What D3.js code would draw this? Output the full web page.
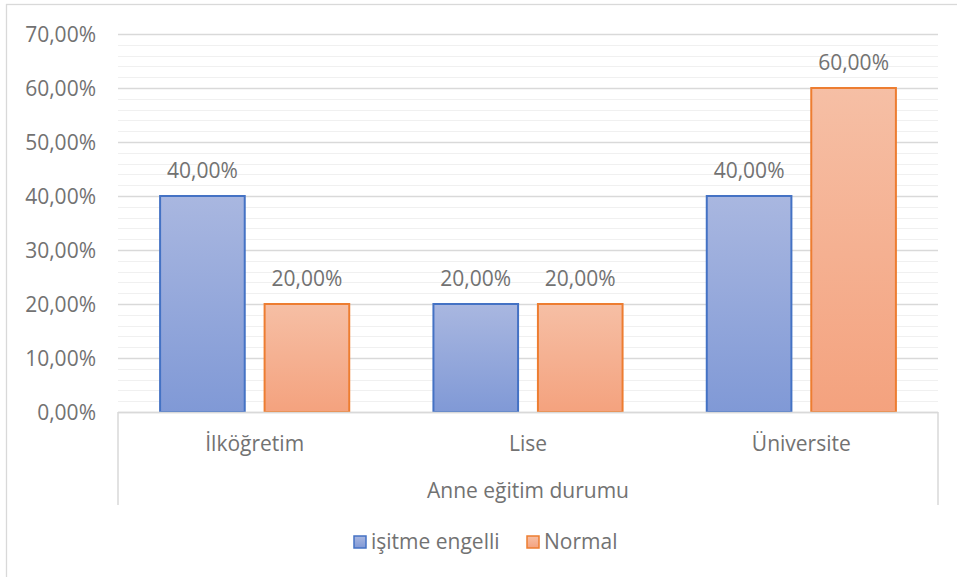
<!DOCTYPE html>
<html>
<head>
<meta charset="utf-8">
<script src="https://cdn.jsdelivr.net/npm/d3@7"></script>
<style>
  html, body { margin: 0; padding: 0; background: #fff; }
  svg { display: block; font-family: "Open Sans", "Noto Sans", sans-serif; }
</style>
</head>
<body>
<svg id="chart" width="957" height="577"></svg>
<script>
// Data
const categories = ["İlköğretim", "Lise", "Üniversite"];
const seriesNames = ["işitme engelli", "Normal"];
const hearingImpaired = [0.40, 0.20, 0.40];
const normal = [0.20, 0.20, 0.60];
const yTicks = [0, 0.1, 0.2, 0.3, 0.4, 0.5, 0.6, 0.7];
const axisTitle = "Anne eğitim durumu";

const svg = d3.select("#chart");
const W = 957, H = 577;
const plot = { left: 118, right: 938, top: 34, bottom: 412 };
const textColor = "#727272";
const fontSize = 21;

// Outer chart border (extends past the right and bottom edges)
svg.append("rect")
  .attr("x", 6.5).attr("y", 4.5)
  .attr("width", W + 20).attr("height", H + 20)
  .attr("fill", "#fff").attr("stroke", "#d9d9d9").attr("stroke-width", 1.3);

const fmt = v => d3.format(".2f")(v * 100).replace(".", ",") + "%";

const y = d3.scaleLinear().domain([0, 0.7]).range([plot.bottom, plot.top]);
const x0 = d3.scaleBand().domain(categories).range([plot.left, plot.right]).paddingInner(0).paddingOuter(0);
const groupWidth = x0.bandwidth() * 0.692;
const x1 = d3.scaleBand().domain(seriesNames)
  .range([(x0.bandwidth() - groupWidth) / 2, (x0.bandwidth() + groupWidth) / 2])
  .paddingInner(0.19).paddingOuter(0);

// Gradients
const defs = svg.append("defs");
const grads = [
  { id: "gBlue", top: "#a9b7e0", bottom: "#8099d6" },
  { id: "gOrange", top: "#f6bfa5", bottom: "#f4a27e" }
];
grads.forEach(g => {
  const lg = defs.append("linearGradient").attr("id", g.id)
    .attr("x1", 0).attr("y1", 0).attr("x2", 0).attr("y2", 1);
  lg.append("stop").attr("offset", "0%").attr("stop-color", g.top);
  lg.append("stop").attr("offset", "100%").attr("stop-color", g.bottom);
});
const fills = ["url(#gBlue)", "url(#gOrange)"];
const strokes = ["#4472c4", "#ed7d31"];

// Minor gridlines every 2%
const minor = d3.range(0, 71, 2).map(v => v / 100).filter(v => Math.round(v * 100) % 10 !== 0);
svg.append("g").selectAll("line").data(minor).join("line")
  .attr("x1", plot.left).attr("x2", plot.right)
  .attr("y1", d => Math.round(y(d)) + 0.5).attr("y2", d => Math.round(y(d)) + 0.5)
  .attr("stroke", "#f0f0f0").attr("stroke-width", 1);

// Major gridlines via axis
const yAxis = d3.axisLeft(y).tickValues(yTicks).tickSize(-(plot.right - plot.left)).tickFormat(fmt).tickPadding(22);
const gy = svg.append("g").attr("transform", `translate(${plot.left},0)`).call(yAxis);
gy.select(".domain").remove();
gy.selectAll(".tick line").attr("stroke", "#d9d9d9").attr("stroke-width", 1.3);
gy.selectAll(".tick text")
  .attr("fill", textColor).attr("font-size", fontSize).attr("font-family", "Open Sans, sans-serif")
  .attr("dy", "0.35em");

// Bars
const series = [hearingImpaired, normal];
const groups = svg.append("g").selectAll("g").data(categories).join("g")
  .attr("transform", d => `translate(${x0(d)},0)`);

series.forEach((vals, si) => {
  groups.append("rect")
    .attr("x", (d, i) => x1(seriesNames[si]))
    .attr("y", (d, i) => y(vals[i]))
    .attr("width", x1.bandwidth())
    .attr("height", (d, i) => y(0) - y(vals[i]))
    .attr("fill", fills[si])
    .attr("stroke", strokes[si]).attr("stroke-width", 2);
  groups.append("text")
    .attr("x", (d, i) => x1(seriesNames[si]) + x1.bandwidth() / 2)
    .attr("y", (d, i) => y(vals[i]) - 18)
    .attr("text-anchor", "middle")
    .attr("fill", textColor).attr("font-size", fontSize)
    .text((d, i) => fmt(vals[i]));
});

// Category axis box
const axisG = svg.append("g");
axisG.append("line")
  .attr("x1", plot.left).attr("x2", plot.right)
  .attr("y1", plot.bottom + 0.5).attr("y2", plot.bottom + 0.5)
  .attr("stroke", "#d9d9d9").attr("stroke-width", 1.5);
[plot.left, plot.right].forEach(xv => {
  axisG.append("line")
    .attr("x1", xv).attr("x2", xv)
    .attr("y1", plot.bottom).attr("y2", 505)
    .attr("stroke", "#d9d9d9").attr("stroke-width", 1.5);
});
axisG.selectAll("text.cat").data(categories).join("text")
  .attr("class", "cat")
  .attr("x", d => x0(d) + x0.bandwidth() / 2)
  .attr("y", 451)
  .attr("text-anchor", "middle")
  .attr("fill", textColor).attr("font-size", fontSize)
  .text(d => d);
axisG.append("text")
  .attr("x", (plot.left + plot.right) / 2).attr("y", 498)
  .attr("text-anchor", "middle")
  .attr("fill", textColor).attr("font-size", fontSize)
  .text(axisTitle);

// Legend
const legendItems = [
  { name: seriesNames[0], x: 354, fill: fills[0], stroke: strokes[0] },
  { name: seriesNames[1], x: 527, fill: fills[1], stroke: strokes[1] }
];
const lg = svg.append("g").selectAll("g").data(legendItems).join("g")
  .attr("transform", d => `translate(${d.x},536)`);
lg.append("rect").attr("width", 12).attr("height", 12)
  .attr("fill", d => d.fill).attr("stroke", d => d.stroke).attr("stroke-width", 1.5);
lg.append("text").attr("x", 17).attr("y", 13)
  .attr("fill", textColor).attr("font-size", fontSize)
  .text(d => d.name);
</script>
</body>
</html>
